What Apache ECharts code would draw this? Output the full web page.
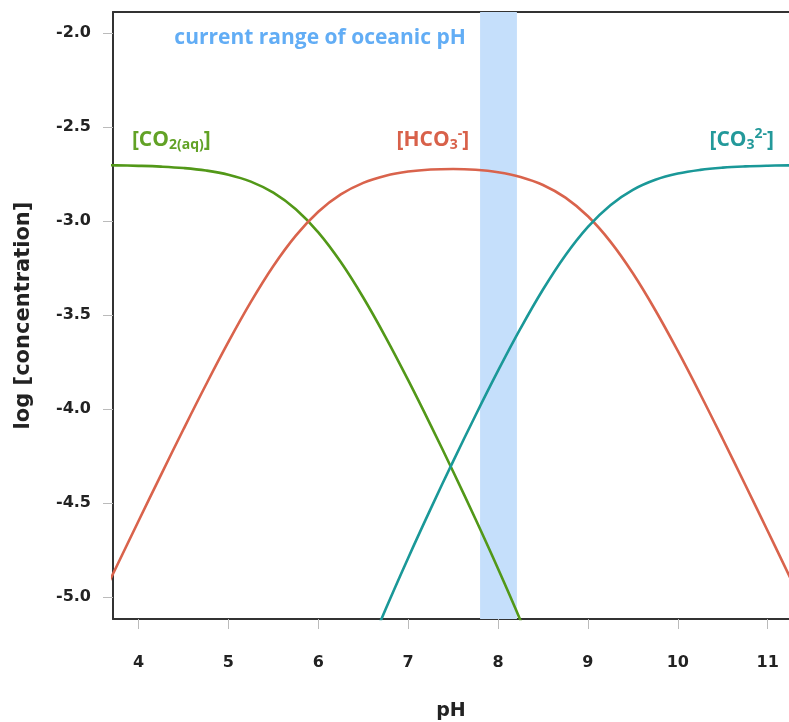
<!DOCTYPE html>
<html>
<head>
<meta charset="utf-8">
<script src="https://cdn.jsdelivr.net/npm/echarts@6.0.0/dist/echarts.min.js"></script>
<style>
html,body{margin:0;padding:0;background:#fff;}
#chart{width:789px;height:722px;}
</style>
</head>
<body>
<div id="chart"></div>
<script>
// pH values (x)
var ph = [3.5, 3.75, 4.0, 4.25, 4.5, 4.75, 5.0, 5.25, 5.5, 5.75,
          6.0, 6.25, 6.5, 6.75, 7.0, 7.25, 7.5, 7.75, 8.0, 8.25,
          8.5, 8.75, 9.0, 9.25, 9.5, 9.75, 10.0, 10.25, 10.5, 10.75,
          11.0, 11.25];
// log concentrations
var co2 = [-2.7018, -2.7031, -2.7056, -2.7098, -2.7173, -2.7304, -2.7526, -2.7896, -2.8484, -2.9366,
           -3.0597, -3.2178, -3.4063, -3.6180, -3.8460, -4.0850, -4.3322, -4.5866, -4.8497, -5.1247,
           -5.4174, -5.7348, -6.0841, -6.4688, -6.8875, -7.334, -7.8008, -8.281, -8.769, -9.263,
           -9.759, -10.257];
var hco3 = [-5.0918, -4.8431, -4.5955, -4.3498, -4.1073, -3.8704, -3.6426, -3.4296, -3.2384, -3.0767,
            -2.9497, -2.8578, -2.7963, -2.7580, -2.7360, -2.7250, -2.7222, -2.7266, -2.7397, -2.7647,
            -2.8074, -2.8748, -2.9741, -3.1088, -3.2775, -3.4740, -3.6908, -3.9209, -4.1594, -4.4027,
            -4.6489, -4.8968];
var co3 = [-10.646, -10.146, -9.652, -9.156, -8.663, -8.176, -7.699, -7.236, -6.794, -6.383,
           -6.0057, -5.6638, -5.3523, -5.0640, -4.7920, -4.5310, -4.2781, -4.0326, -3.7957, -3.5707,
           -3.3634, -3.1808, -3.0301, -2.9149, -2.8335, -2.7800, -2.7468, -2.7269, -2.7153, -2.7087,
           -2.7049, -2.7028];
// current range of oceanic pH
var oceanRange = [7.8, 8.21];
// tick labels
var xTicks = [4, 5, 6, 7, 8, 9, 10, 11];
var yTicks = [-5.0, -4.5, -4.0, -3.5, -3.0, -2.5, -2.0];

function pairs(xs, ys) { return xs.map(function (x, i) { return [x, ys[i]]; }); }

var XMIN = 3.716, XMAX = 11.237, YMIN = -5.117, YMAX = -1.887;
var axisFont = 'DejaVu Sans';
var labFont = 'Open Sans';

function richSet(color) {
  return {
    m: {fontSize: 21, fontWeight: 'bold', fontFamily: labFont, color: color},
    s: {fontSize: 14, fontWeight: 'bold', fontFamily: labFont, color: color, padding: [11, 0, 0, 0]},
    p: {fontSize: 14, fontWeight: 'bold', fontFamily: labFont, color: color, padding: [0, 0, 11, 0]}
  };
}

var chart = echarts.init(document.getElementById('chart'), null, {renderer: 'canvas'});
chart.setOption({
  animation: false,
  backgroundColor: '#ffffff',
  grid: {left: 113, right: 0, top: 12, bottom: 103, containLabel: false, outerBoundsMode: 'none'},
  xAxis: [{
    type: 'value', min: XMIN, max: XMAX,
    name: 'pH', nameLocation: 'middle', nameGap: 83,
    nameTextStyle: {fontFamily: axisFont, fontWeight: 'bold', fontSize: 19, color: '#222'},
    axisLine: {show: true, onZero: false, lineStyle: {color: '#333', width: 2}},
    axisTick: {show: true, length: 10, customValues: xTicks, lineStyle: {color: '#bbb', width: 1}},
    axisLabel: {customValues: xTicks, margin: 36, fontFamily: axisFont, fontWeight: 'bold', fontSize: 16, color: '#222'},
    splitLine: {show: false}
  }, {
    type: 'value', position: 'top', min: XMIN, max: XMAX,
    axisLine: {show: true, onZero: false, lineStyle: {color: '#333', width: 2}},
    axisTick: {show: false}, axisLabel: {show: false}, splitLine: {show: false}
  }],
  yAxis: {
    type: 'value', min: YMIN, max: YMAX,
    name: 'log [concentration]', nameLocation: 'middle', nameGap: 79,
    nameTextStyle: {fontFamily: axisFont, fontWeight: 'bold', fontSize: 21, color: '#222'},
    axisLine: {show: true, onZero: false, lineStyle: {color: '#333', width: 2}},
    axisTick: {show: true, length: 10, customValues: yTicks, lineStyle: {color: '#bbb', width: 1}},
    axisLabel: {customValues: yTicks, margin: 22, fontFamily: axisFont, fontWeight: 'bold', fontSize: 16, color: '#222',
      formatter: function (v) { return v.toFixed(1); }},
    splitLine: {show: false}
  },
  series: [
    {
      type: 'line', data: [], z: 1, silent: true,
      markArea: {
        silent: true,
        itemStyle: {color: '#c5dffb', opacity: 1},
        data: [[{xAxis: oceanRange[0]}, {xAxis: oceanRange[1]}]]
      }
    },
    {
      name: 'CO2', type: 'line', data: pairs(ph, co2), smooth: 0.4, showSymbol: false, z: 3,
      lineStyle: {color: '#529818', width: 2.6}, clip: true
    },
    {
      name: 'HCO3', type: 'line', data: pairs(ph, hco3), smooth: 0.4, showSymbol: false, z: 3,
      lineStyle: {color: '#d9634c', width: 2.6}, clip: true
    },
    {
      name: 'CO3', type: 'line', data: pairs(ph, co3), smooth: 0.4, showSymbol: false, z: 3,
      lineStyle: {color: '#1a9898', width: 2.6}, clip: true
    },
    {
      type: 'scatter', symbolSize: 0, silent: true, z: 4,
      itemStyle: {opacity: 1},
      data: [
        {value: [3.926, -2.568], label: {formatter: '{m|[CO}{s|2(aq)}{m|]}', rich: richSet('#62a226')}},
        {value: [6.871, -2.568], label: {formatter: '{m|[HCO}{s|3}{p|-}{m|]}', rich: richSet('#d8614a')}},
        {value: [10.352, -2.568], label: {formatter: '{m|[CO}{s|3}{p|2-}{m|]}', rich: richSet('#23999a')}},
        {value: [6.02, -2.027], label: {formatter: 'current range of oceanic pH', position: 'inside',
          fontSize: 21, fontWeight: 'bold', fontFamily: labFont, color: '#62adf5'}}
      ],
      label: {show: true, position: 'right', distance: 0, opacity: 1}
    }
  ]
});
</script>
</body>
</html>
